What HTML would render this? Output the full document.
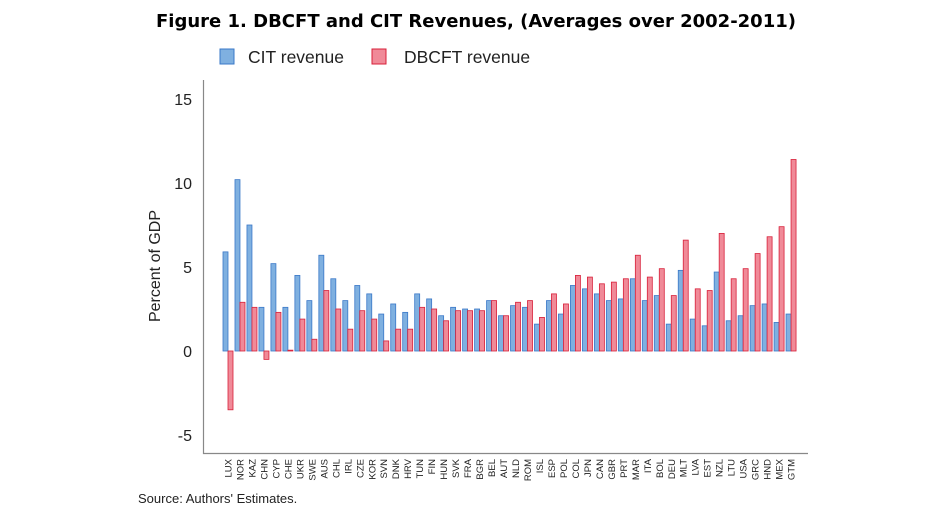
<!DOCTYPE html>
<html><head><meta charset="utf-8"><style>
body{margin:0;background:#fff;width:952px;height:511px;overflow:hidden;font-family:"Liberation Sans",sans-serif}
</style></head><body>
<svg width="952" height="511" id="svg">
<text x="476" y="27" text-anchor="middle" font-size="18" font-weight="bold" font-family="DejaVu Sans, Liberation Sans, sans-serif">Figure 1. DBCFT and CIT Revenues, (Averages over 2002-2011)</text>
<g>
<rect x="220" y="49" width="14" height="15" fill="#7fb0e0" stroke="#3a78c8"/>
<text x="248" y="63" font-size="17.5" fill="#222">CIT revenue</text>
<rect x="372" y="49" width="14" height="15" fill="#f08a98" stroke="#d8203a"/>
<text x="404" y="63" font-size="17.5" fill="#222">DBCFT revenue</text>
</g>
<text transform="translate(160,266) rotate(-90)" text-anchor="middle" font-size="16" fill="#222">Percent of GDP</text>
<path d="M203.5 80 V453.5 H808" fill="none" stroke="#888" stroke-width="1.2"/>
<g id="bars"></g>
<text x="138" y="503" font-size="13" fill="#222">Source: Authors' Estimates.</text>
</svg>
<script>
const categories=["LUX","NOR","KAZ","CHN","CYP","CHE","UKR","SWE","AUS","CHL","IRL","CZE","KOR","SVN","DNK","HRV","TUN","FIN","HUN","SVK","FRA","BGR","BEL","AUT","NLD","ROM","ISL","ESP","POL","COL","JPN","CAN","GBR","PRT","MAR","ITA","BOL","DEU","MLT","LVA","EST","NZL","LTU","USA","GRC","HND","MEX","GTM"];
const citRevenue=[5.9,10.2,7.5,2.6,5.2,2.6,4.5,3.0,5.7,4.3,3.0,3.9,3.4,2.2,2.8,2.3,3.4,3.1,2.1,2.6,2.5,2.5,3.0,2.1,2.7,2.6,1.6,3.0,2.2,3.9,3.7,3.4,3.0,3.1,4.3,3.0,3.3,1.6,4.8,1.9,1.5,4.7,1.8,2.1,2.7,2.8,1.7,2.2];
const dbcftRevenue=[-3.5,2.9,2.6,-0.5,2.3,0.05,1.9,0.7,3.6,2.5,1.3,2.4,1.9,0.6,1.3,1.3,2.6,2.5,1.8,2.4,2.4,2.4,3.0,2.1,2.9,3.0,2.0,3.4,2.8,4.5,4.4,4.0,4.1,4.3,5.7,4.4,4.9,3.3,6.6,3.7,3.6,7.0,4.3,4.9,5.8,6.8,7.4,11.4];
const yTicks=[-5,0,5,10,15];
const ns="http://www.w3.org/2000/svg";
const svg=document.getElementById('svg'),g=document.getElementById('bars');
const y=v=>351-v*16.8;
const x=i=>228+i*11.98;
function mk(t,a){const e=document.createElementNS(ns,t);for(const k in a)e.setAttribute(k,a[k]);return e;}
yTicks.forEach(t=>{
 const e=mk('text',{x:192,y:y(t)+6,'text-anchor':'end','font-size':16,fill:'#222'});
 e.textContent=t;
 
 
 svg.appendChild(e);
});
categories.forEach((c,i)=>{
 const cx=x(i);
 const v1=citRevenue[i],v2=dbcftRevenue[i];
 const b1=mk('rect',{x:cx-5,y:Math.min(y(v1),y(0)),width:5,height:Math.max(0.5,Math.abs(y(v1)-y(0))),fill:'#7fb0e0',stroke:'#3a78c8','stroke-width':0.8});
 
 
 g.appendChild(b1);
 const b2=mk('rect',{x:cx,y:Math.min(y(v2),y(0)),width:5,height:Math.max(0.5,Math.abs(y(v2)-y(0))),fill:'#f08a98',stroke:'#d8203a','stroke-width':0.8});
 
 
 g.appendChild(b2);
 const t=mk('text',{transform:`translate(${cx+3.5},459) rotate(-90)`,'text-anchor':'end','font-size':9.5,fill:'#222'});
 t.textContent=c;
 
 
 svg.appendChild(t);
});
</script>
</body></html>
